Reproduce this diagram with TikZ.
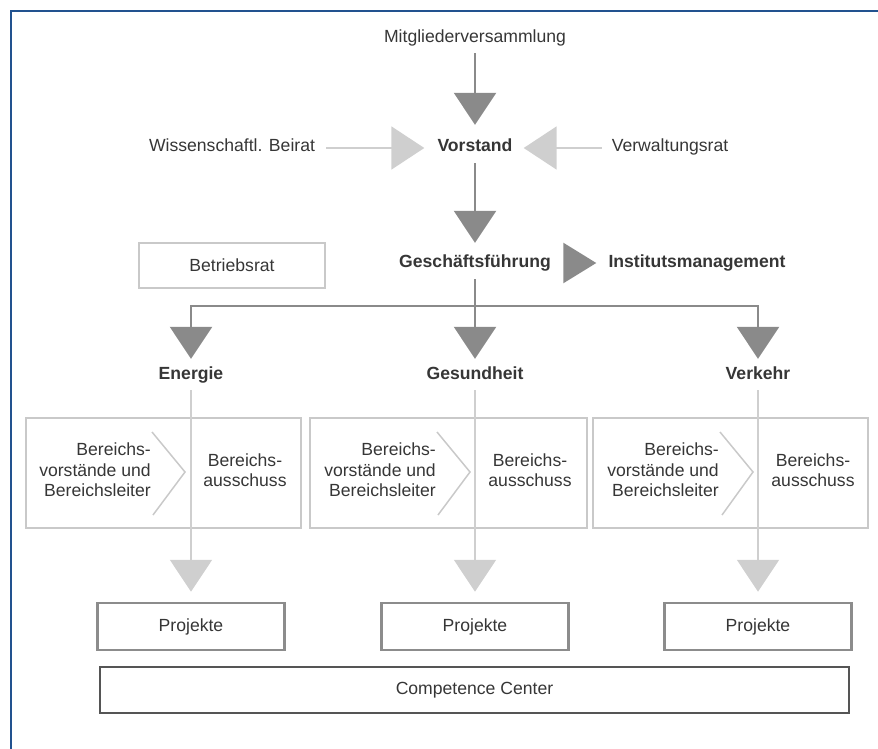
\documentclass[tikz,border=0pt]{standalone}
\usepackage{fontspec}
\setmainfont{Liberation Sans}
\usetikzlibrary{arrows.meta}
\definecolor{frameblue}{HTML}{22528F}
\definecolor{txtgray}{HTML}{363636}
\definecolor{darkarrow}{HTML}{8A8A8A}
\definecolor{lightarrow}{HTML}{CFCFCF}
\definecolor{lightbox}{HTML}{C9C9C9}
\definecolor{probox}{HTML}{8C8C8C}
\definecolor{ccbox}{HTML}{555555}

\begin{document}
\begin{tikzpicture}[x=1pt,y=-1pt,
    every node/.style={text=txtgray,font=\fontsize{17.6}{20.5}\selectfont},
    lbl/.style={inner sep=0pt,text height=12pt,text depth=4pt},
    head/.style={lbl,font=\fontsize{17.6}{20.5}\selectfont\bfseries},
    darkline/.style={draw=darkarrow,line width=2.5pt},
    lightline/.style={draw=lightarrow,line width=2pt},
    bigtip/.style={-{Triangle[width=42pt,length=32pt]}},
    sidetip/.style={-{Triangle[width=43pt,length=33pt]}},
    bereich/.style={draw=lightbox,line width=1.5pt,minimum height=110pt},
    probx/.style={draw=probox,line width=2.5pt,minimum width=187pt,minimum height=47pt},
    chev/.style={draw=lightbox,line width=1.5pt}]
    \useasboundingbox (0,0) rectangle (878,749);
    %% frame
    \draw[frameblue,line width=2.5pt] (878,11) -- (11,11) -- (11,749);
    %% top
    \node[lbl] (mv) at (475,39) {Mitgliederversammlung};
    \node[head] (vorstand) at (475,148) {Vorstand};
    \node[lbl] (wb) at (232,148) {Wissenschaftl. Beirat};
    \node[lbl] (vr) at (670,148) {Verwaltungsrat};
    \draw[darkline,bigtip,shorten <=6pt,shorten >=15pt] (mv.south) -- (vorstand.north);
    \draw[lightline,sidetip,shorten <=11pt,shorten >=13pt] (wb.east) -- (vorstand.west);
    \draw[lightline,sidetip,shorten <=10pt,shorten >=11pt] (vr.west) -- (vorstand.east);
    %% management
    \node[head] (gf) at (475,263) {Geschäftsführung};
    \node[head] (im) at (697,263) {Institutsmanagement};
    \node[draw=lightbox,line width=2pt,minimum width=186pt,minimum height=45pt] (br) at (232,265.5) {Betriebsrat};
    \draw[darkline,bigtip,shorten <=7pt,shorten >=12pt] (vorstand.south) -- (gf.north);
    \draw[darkline,-{Triangle[width=40pt,length=33pt]},shorten <=14pt,shorten >=12pt] (gf.east) -- (im.west);
    %% areas
    \node[head] (energie) at (191,375) {Energie};
    \node[head] (gesundheit) at (475,375) {Gesundheit};
    \node[head] (verkehr) at (758,375) {Verkehr};
    \coordinate (bus) at (475,306);
    \draw[darkline,shorten <=8pt] (gf.south) -- (bus);
    \draw[darkline,bigtip,shorten >=8pt] (bus) -| (energie.north);
    \draw[darkline,bigtip,shorten >=8pt] (bus) -- (gesundheit.north);
    \draw[darkline,bigtip,shorten >=8pt] (bus) -| (verkehr.north);
    %% area boxes
    \node[bereich,minimum width=275pt] (be) at (163.5,473) {};
    \node[bereich,minimum width=277pt] (bg) at (448.5,473) {};
    \node[bereich,minimum width=275pt] (bv) at (730.5,473) {};
    \draw[chev] (152,432) -- (185,472) -- (153,515);
    \draw[chev] (437,432) -- (470,472) -- (438,515);
    \draw[chev] (720,432) -- (753,472) -- (722,515);
    \node[anchor=east,align=right,inner sep=0pt] (el) at (151,470) {Bereichs-\\vorstände und\\Bereichsleiter};
    \node[anchor=east,align=right,inner sep=0pt] (gl) at (436,470) {Bereichs-\\vorstände und\\Bereichsleiter};
    \node[anchor=east,align=right,inner sep=0pt] (vl) at (719,470) {Bereichs-\\vorstände und\\Bereichsleiter};
    \node[align=center,inner sep=0pt] (er) at (245,470) {Bereichs-\\ausschuss};
    \node[align=center,inner sep=0pt] (gr) at (530,470) {Bereichs-\\ausschuss};
    \node[align=center,inner sep=0pt] (vrr) at (813,470) {Bereichs-\\ausschuss};
    %% projects
    \node[probx] (pe) at (191,626.5) {Projekte};
    \node[probx] (pg) at (475,626.5) {Projekte};
    \node[probx] (pv) at (758,626.5) {Projekte};
    \node[draw=ccbox,line width=2.5pt,minimum width=749pt,minimum height=46pt] (cc) at (474.5,690) {Competence Center};
    \draw[lightline,bigtip,shorten <=7pt,shorten >=10pt] (energie.south) -- (pe.north);
    \draw[lightline,bigtip,shorten <=7pt,shorten >=10pt] (gesundheit.south) -- (pg.north);
    \draw[lightline,bigtip,shorten <=7pt,shorten >=10pt] (verkehr.south) -- (pv.north);
\end{tikzpicture}
\end{document}
